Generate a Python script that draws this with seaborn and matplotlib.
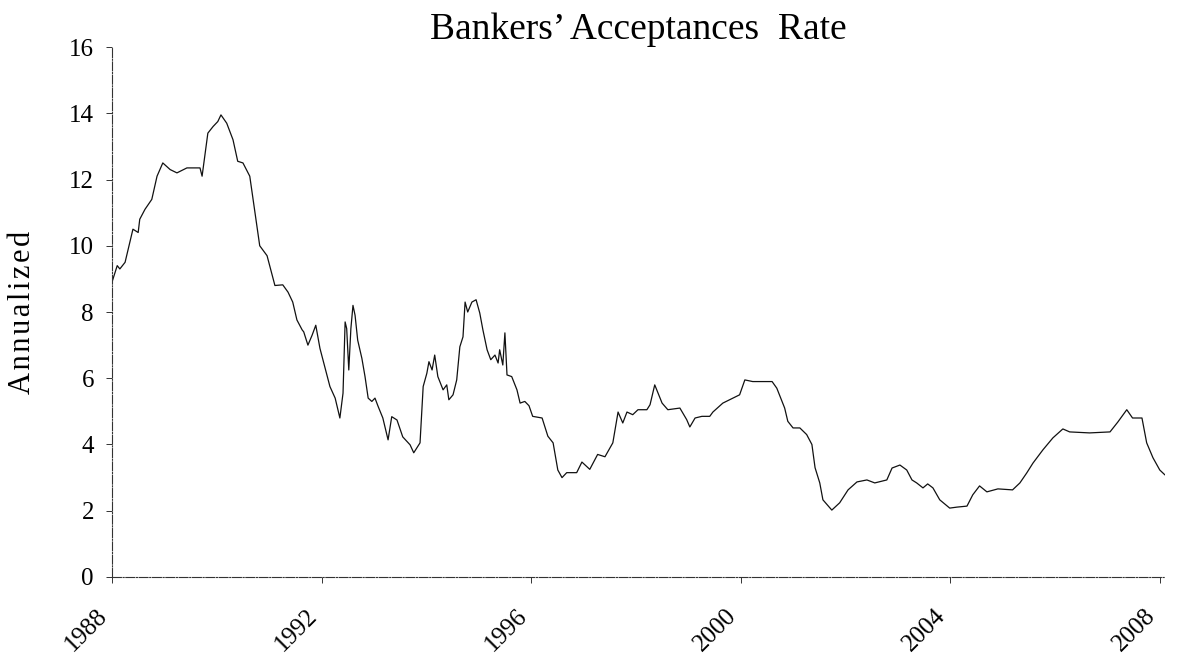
import numpy as np
import pandas as pd
import matplotlib
matplotlib.use("Agg")
import matplotlib.pyplot as plt
import seaborn as sns

# decimal year and annualized rate
years = [
    1988.00, 1988.10, 1988.15, 1988.25, 1988.40, 1988.50, 1988.53, 1988.63, 1988.76, 1988.86,
    1988.97, 1989.11, 1989.24, 1989.43, 1989.68, 1989.72, 1989.83, 1989.93, 1990.02, 1990.08,
    1990.19, 1990.31, 1990.40, 1990.50, 1990.63, 1990.82, 1990.96, 1991.11, 1991.26, 1991.36,
    1991.45, 1991.53, 1991.63, 1991.66, 1991.74, 1991.82, 1991.89, 1991.97, 1992.06, 1992.16,
    1992.26, 1992.35, 1992.41, 1992.45, 1992.48, 1992.52, 1992.56, 1992.60, 1992.64, 1992.69,
    1992.77, 1992.83, 1992.89, 1992.96, 1993.02, 1993.08, 1993.17, 1993.27, 1993.34, 1993.44,
    1993.55, 1993.69, 1993.76, 1993.88, 1993.94, 1994.01, 1994.05, 1994.11, 1994.16, 1994.22,
    1994.32, 1994.39, 1994.43, 1994.51, 1994.58, 1994.64, 1994.70, 1994.74, 1994.79, 1994.87,
    1994.95, 1995.02, 1995.08, 1995.16, 1995.23, 1995.31, 1995.37, 1995.40, 1995.46, 1995.50,
    1995.54, 1995.63, 1995.73, 1995.79, 1995.88, 1995.96, 1996.03, 1996.21, 1996.32, 1996.42,
    1996.51, 1996.59, 1996.68, 1996.87, 1996.97, 1997.12, 1997.27, 1997.41, 1997.56, 1997.66,
    1997.75, 1997.83, 1997.94, 1998.04, 1998.21, 1998.27, 1998.36, 1998.50, 1998.61, 1998.84,
    1998.97, 1999.03, 1999.13, 1999.26, 1999.41, 1999.47, 1999.66, 1999.85, 1999.98, 2000.08,
    2000.23, 2000.60, 2000.69, 2000.84, 2000.90, 2001.00, 2001.13, 2001.26, 2001.36, 2001.42,
    2001.51, 2001.57, 2001.74, 2001.89, 2002.05, 2002.22, 2002.41, 2002.56, 2002.79, 2002.89,
    2003.04, 2003.17, 2003.27, 2003.36, 2003.48, 2003.57, 2003.67, 2003.80, 2003.99, 2004.13,
    2004.32, 2004.43, 2004.56, 2004.70, 2004.91, 2005.19, 2005.33, 2005.46, 2005.58, 2005.77,
    2005.96, 2006.15, 2006.28, 2006.66, 2007.05, 2007.20, 2007.37, 2007.48, 2007.66, 2007.75,
    2007.87, 2008.00, 2008.10,
]
rates = [
    8.90, 9.40, 9.30, 9.50, 10.50, 10.40, 10.80, 11.10, 11.40, 12.10,
    12.50, 12.30, 12.20, 12.35, 12.35, 12.10, 13.40, 13.60, 13.75, 13.95,
    13.70, 13.20, 12.55, 12.50, 12.10, 10.00, 9.70, 8.80, 8.82, 8.60,
    8.30, 7.76, 7.46, 7.40, 7.00, 7.30, 7.60, 6.90, 6.35, 5.75,
    5.40, 4.80, 5.55, 7.70, 7.50, 6.25, 7.50, 8.20, 7.90, 7.15,
    6.60, 6.05, 5.40, 5.30, 5.40, 5.15, 4.80, 4.14, 4.84, 4.74,
    4.23, 3.99, 3.75, 4.05, 5.75, 6.15, 6.50, 6.25, 6.70, 6.05,
    5.65, 5.80, 5.35, 5.50, 5.95, 6.95, 7.25, 8.30, 8.00, 8.30,
    8.37, 7.97, 7.46, 6.86, 6.56, 6.70, 6.46, 6.86, 6.40, 7.37,
    6.10, 6.05, 5.65, 5.25, 5.30, 5.17, 4.85, 4.80, 4.25, 4.05,
    3.23, 3.00, 3.15, 3.15, 3.47, 3.25, 3.70, 3.63, 4.05, 4.98,
    4.65, 4.98, 4.90, 5.05, 5.05, 5.20, 5.80, 5.25, 5.05, 5.10,
    4.75, 4.53, 4.80, 4.85, 4.85, 4.98, 5.25, 5.40, 5.50, 5.95,
    5.90, 5.90, 5.70, 5.10, 4.70, 4.50, 4.50, 4.30, 4.00, 3.30,
    2.84, 2.33, 2.02, 2.24, 2.63, 2.87, 2.93, 2.84, 2.93, 3.29,
    3.38, 3.23, 2.93, 2.84, 2.69, 2.81, 2.69, 2.33, 2.08, 2.11,
    2.14, 2.48, 2.75, 2.57, 2.66, 2.63, 2.84, 3.14, 3.44, 3.84,
    4.20, 4.47, 4.38, 4.35, 4.38, 4.68, 5.05, 4.80, 4.80, 4.05,
    3.60, 3.23, 3.08,
]
year_ticks = [1988, 1992, 1996, 2000, 2004, 2008]
rate_ticks = [0, 2, 4, 6, 8, 10, 12, 14, 16]

df = pd.DataFrame({"year": years, "rate": rates})

sns.set_theme(style="ticks")
plt.rcParams['font.family'] = ['Liberation Serif', 'DejaVu Serif']
plt.rcParams['text.color'] = 'black'
plt.rcParams['axes.labelcolor'] = 'black'
plt.rcParams['xtick.color'] = 'black'
plt.rcParams['ytick.color'] = 'black'

fig = plt.figure(figsize=(11.8, 6.62), dpi=100)
ax = fig.add_axes([0.0949, 0.1284, 0.8924, 0.8006])

sns.lineplot(data=df, x="year", y="rate", ax=ax, color="#111111",
             linewidth=0.9, estimator=None, sort=False)

ax.set_xlim(1988, 2008.1)
ax.set_ylim(0, 16)
ax.set_xticks(year_ticks)
ax.set_xticklabels([str(y) for y in year_ticks], rotation=45, ha="right",
                   fontsize=18)
ax.set_yticks(rate_ticks)
ax.set_yticklabels([str(r) for r in rate_ticks], fontsize=18)
ax.tick_params(axis="x", length=4, width=0.7, pad=16, color="#333333")
ax.tick_params(axis="y", length=4, width=0.7, pad=9, color="#333333")

sns.despine(ax=ax)
for side in ("left", "bottom"):
    ax.spines[side].set_color("#333333")
    ax.spines[side].set_linewidth(0.8)
    ax.spines[side].set_linestyle((0, (8, 1.5, 1, 1.5)))

ax.set_xlabel("")
# hair spaces widen the letter spacing like the scan
ax.set_ylabel("A\u200an\u200an\u200au\u200aa\u200al\u200ai\u200az\u200ae\u200ad",
              fontsize=22, labelpad=23)
ax.set_title("Bankers\u2019 Acceptances  Rate", fontsize=27, pad=6)

fig.savefig("out.png", dpi=100, facecolor="white")
